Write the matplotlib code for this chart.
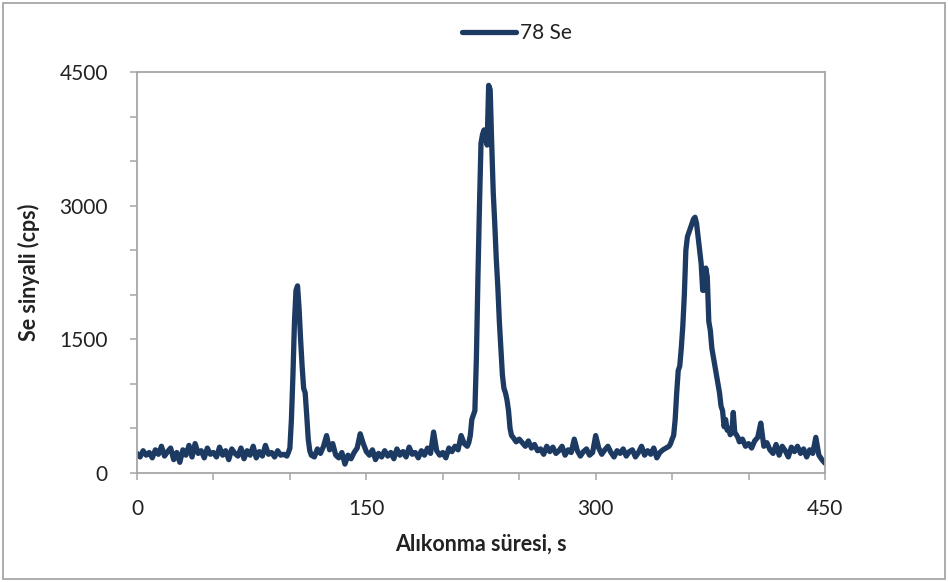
import matplotlib
matplotlib.use("Agg")
import matplotlib.pyplot as plt
from matplotlib.patches import Rectangle
from matplotlib.ticker import MultipleLocator

# Retention time (s) and 78Se signal (cps)
time_s = [
    0, 2, 4, 6, 8, 10, 12, 14, 16, 18, 20, 22, 24, 26, 28, 30, 32, 34, 36, 38,
    40, 42, 44, 46, 48, 50, 52, 54, 56, 58, 60, 62, 64, 66, 68, 70, 72, 74, 76, 78,
    80, 82, 84, 86, 88, 90, 92, 94, 96, 98,
    99, 100, 101, 102, 103, 104, 105, 106, 107, 108, 109, 110, 111, 112, 113, 114,
    116, 118, 120, 122, 124, 126, 128, 130, 132, 134, 136, 138, 140, 142, 144, 146,
    148, 150, 152, 154, 156, 158, 160, 162, 164, 166, 168, 170, 172, 174, 176, 178,
    180, 182, 184, 186, 188, 190, 192, 194, 196, 198, 200, 202, 204, 206, 208, 210,
    212, 214, 216,
    217, 218, 219, 220, 221, 222, 223, 224, 225, 226, 227, 228, 229, 230, 231, 232,
    233, 234, 235, 236, 237, 238, 239, 240, 241, 242, 243, 244, 245, 246, 248, 250,
    252, 254, 256, 258, 260, 262, 264, 266, 268, 270, 272, 274, 276, 278, 280, 282,
    284, 286, 288, 290, 292, 294, 296, 298, 300, 302, 304, 306, 308, 310, 312, 314,
    316, 318, 320, 322, 324, 326, 328, 330, 332, 334, 336, 338, 340, 342, 344, 346,
    348,
    349, 350, 351, 352, 353, 354, 355, 356, 357, 358, 359, 360, 361, 362, 363, 364,
    365, 366, 367, 368, 369, 370, 371, 372, 373, 374, 375, 376, 377, 378, 379, 380,
    381, 382, 383, 384, 385, 386, 387, 388, 389, 390, 391, 392, 393, 394, 396,
    398, 400, 402, 404, 406, 408, 410, 412, 414, 416, 418, 420, 422, 424, 426, 428,
    430, 432, 434, 436, 438, 440, 442, 444, 446, 448, 450,
]
signal_cps = [
    220, 180, 250, 200, 230, 170, 260, 210, 300, 190, 240, 280, 150, 230, 120, 260, 200, 310, 180, 330,
    220, 250, 170, 280, 210, 230, 180, 290, 200, 250, 150, 270, 220, 190, 280, 160, 250, 200, 300, 170,
    240, 190, 310, 210, 230, 180, 250, 200, 210, 190,
    230, 280, 600, 1100, 1700, 2050, 2100, 1850, 1500, 1200, 950, 900, 650, 380, 250, 200,
    180, 270, 220, 300, 420, 260, 330, 200, 170, 230, 100, 200, 160, 230, 280, 440,
    330, 240, 200, 260, 150, 220, 180, 250, 190, 230, 160, 270, 200, 240, 180, 290,
    210, 230, 170, 250, 200, 280, 220, 460, 250, 200, 230, 170, 280, 240, 300, 260,
    420, 330, 300,
    340, 420, 600, 650, 700, 1300, 2200, 3000, 3700, 3800, 3850, 3750, 3680, 4350, 4300, 3700,
    3150, 2800, 2400, 2090, 1700, 1400, 1100, 950, 900, 820, 700, 500, 420, 400, 350, 380,
    340, 300, 360, 280, 320, 250, 270, 210, 300, 240, 290, 220, 250, 300, 200, 260,
    230, 380, 250, 190, 240, 270, 200, 230, 420, 280, 210, 260, 300, 230, 180, 250,
    220, 270, 190, 240, 260, 180, 230, 300, 200, 250, 210, 280, 170, 230, 260, 280,
    300,
    330, 380, 420, 600, 900, 1150, 1200, 1400, 1650, 2000, 2500, 2650, 2700, 2750, 2800, 2850,
    2870, 2800, 2650, 2500, 2350, 2050, 2050, 2300, 2200, 1700, 1600, 1400, 1300, 1200, 1100, 1000,
    900, 750, 700, 520, 600, 480, 500, 430, 450, 680, 450, 430, 400, 350, 380,
    300, 330, 280, 360, 400, 560, 300, 340, 260, 220, 320, 200, 300, 250, 180, 290,
    240, 300, 220, 270, 180, 260, 220, 400, 200, 150, 110,
]

series_label = "78 Se"
x_label = "Alıkonma süresi, s"
y_label = "Se sinyali (cps)"
x_ticks = [0, 150, 300, 450]
y_ticks = [0, 1500, 3000, 4500]

line_color = "#1C3A62"
grid_gray = "#A6A6A6"
text_color = "#222222"

plt.rcParams['font.family'] = ['Lato', 'DejaVu Sans']

fig = plt.figure(figsize=(9.48, 5.82), dpi=100)
ax = fig.add_axes([137/948, 1 - 473/582, (825-137)/948, (473-72)/582])

ax.plot(time_s, signal_cps, color=line_color, linewidth=3.8, label=series_label,
        solid_joinstyle='round', solid_capstyle='round')

ax.set_xlim(0, 450)
ax.set_ylim(0, 4500)
ax.set_xticks(x_ticks)
ax.set_yticks(y_ticks)
ax.xaxis.set_minor_locator(MultipleLocator(50))
ax.yaxis.set_minor_locator(MultipleLocator(500))

for s in ax.spines.values():
    s.set_color(grid_gray)
    s.set_linewidth(1.3)

ax.tick_params(axis='both', which='both', direction='out', color=grid_gray,
               width=1.1, length=5)
ax.tick_params(axis='x', which='major', labelsize=15, pad=14, labelcolor=text_color)
ax.tick_params(axis='y', which='major', labelsize=15, pad=16, labelcolor=text_color)

ax.set_xlabel(x_label, fontsize=15.5, fontweight='bold', color=text_color, labelpad=10)
ax.set_ylabel(y_label, fontsize=15.5, fontweight='bold', color=text_color, labelpad=14)

leg = fig.legend(loc='center', bbox_to_anchor=(0.545, 1 - 33/582), frameon=False,
                 fontsize=15, handlelength=2.6, handletextpad=0.2)
for t in leg.get_texts():
    t.set_color(text_color)

fig.patches.append(Rectangle((3/948, 3/582), 942/948, 576/582, transform=fig.transFigure,
                             fill=False, edgecolor=grid_gray, linewidth=1.3))

fig.savefig("out.png", dpi=100)
